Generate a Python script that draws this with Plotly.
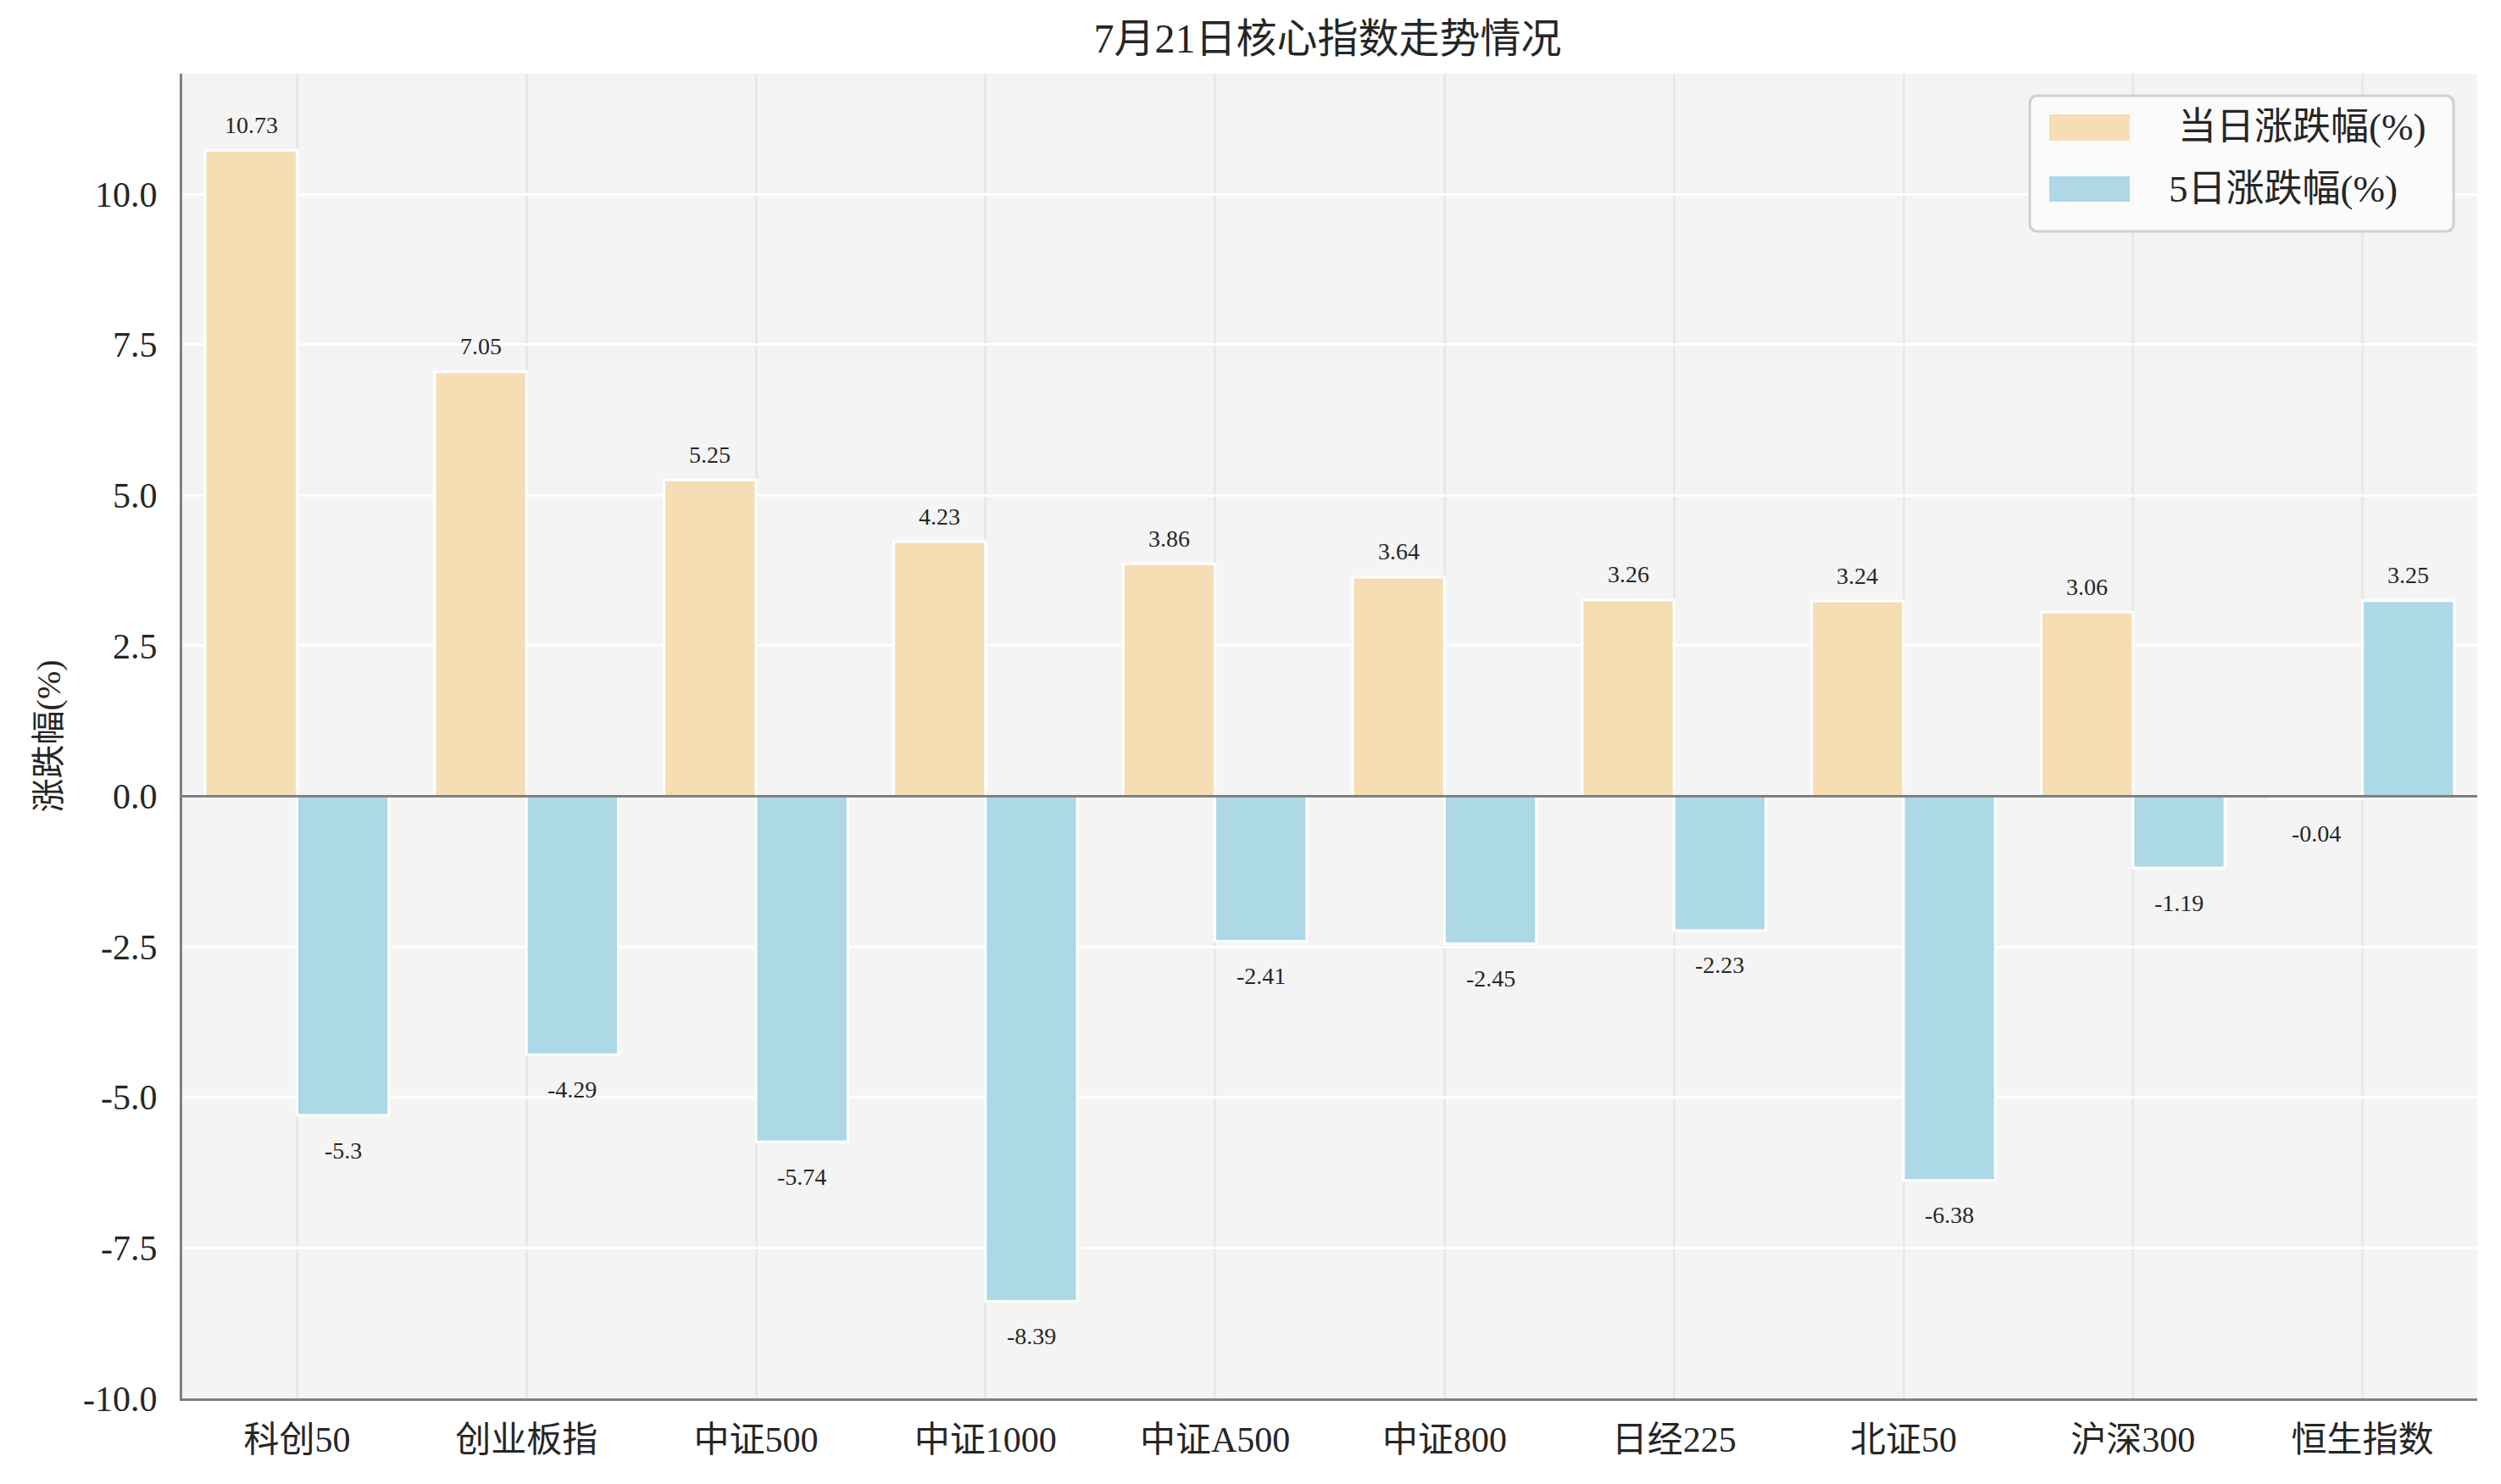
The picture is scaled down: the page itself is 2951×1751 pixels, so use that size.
import plotly.graph_objects as go
import numpy as np

categories = ["科创50", "创业板指", "中证500", "中证1000", "中证A500", "中证800", "日经225", "北证50", "沪深300", "恒生指数"]
daily_change = [10.73, 7.05, 5.25, 4.23, 3.86, 3.64, 3.26, 3.24, 3.06, -0.04]
five_day_change = [-5.3, -4.29, -5.74, -8.39, -2.41, -2.45, -2.23, -6.38, -1.19, 3.25]
series_names = ["当日涨跌幅(%)", "5日涨跌幅(%)"]
series_colors = ["#F5DEB3", "#ADD8E6"]
y_ticks = [-10.0, -7.5, -5.0, -2.5, 0.0, 2.5, 5.0, 7.5, 10.0]

FONT = "Liberation Serif, Noto Sans CJK SC, serif"
TXT = "#262626"
x = np.arange(len(categories))

fig = go.Figure()
for vals, name, col in zip((daily_change, five_day_change), series_names, series_colors):
    fig.add_trace(go.Bar(x=x, y=vals, name=name, showlegend=False,
                         marker=dict(color=col, line=dict(color="white", width=3))))

annotations = []
for series, off in ((daily_change, -0.2), (five_day_change, 0.2)):
    for i, v in enumerate(series):
        annotations.append(dict(x=i + off, y=v, xref="x", yref="y", text=f"{v:g}",
                                showarrow=False, yanchor="middle",
                                yshift=30 if v >= 0 else -41,
                                font=dict(family=FONT, size=28, color=TXT)))

annotations.append(dict(x=-0.058, y=0.5, xref="paper", yref="paper", text="涨跌幅(%)",
                        textangle=-90, showarrow=False, xanchor="center", yanchor="middle",
                        font=dict(family=FONT, size=40, color=TXT)))

# zero reference line drawn above the bars
shapes = [dict(type="line", xref="paper", yref="y", x0=0, x1=1, y0=0, y1=0,
               line=dict(color="#808080", width=3), layer="above")]

# legend (large swatches, rounded frame)
lx0, lx1, ly0, ly1 = 0.8050, 0.9897, 0.8810, 0.9834
rx, ry = 0.0037, 0.0064
path = (f"M {lx0+rx},{ly0} L {lx1-rx},{ly0} Q {lx1},{ly0} {lx1},{ly0+ry} "
        f"L {lx1},{ly1-ry} Q {lx1},{ly1} {lx1-rx},{ly1} "
        f"L {lx0+rx},{ly1} Q {lx0},{ly1} {lx0},{ly1-ry} "
        f"L {lx0},{ly0+ry} Q {lx0},{ly0} {lx0+rx},{ly0} Z")
shapes.append(dict(type="path", xref="paper", yref="paper", path=path,
                   fillcolor="rgba(252,252,252,0.85)", line=dict(color="#d0d0d0", width=3),
                   layer="above"))
swatch_y = [(0.9495, 0.9693), (0.9034, 0.9226)]
text_y = [0.9597, 0.9130]
text_x = [0.8690, 0.8650]
for (y0, y1), col, ty, tx, name in zip(swatch_y, series_colors, text_y, text_x, series_names):
    shapes.append(dict(type="rect", xref="paper", yref="paper", x0=0.8135, x1=0.8486,
                       y0=y0, y1=y1, fillcolor=col, line=dict(width=0), layer="above"))
    annotations.append(dict(x=tx, y=ty, xref="paper", yref="paper", text=name,
                            showarrow=False, xanchor="left", yanchor="middle",
                            font=dict(family=FONT, size=45, color=TXT)))

fig.update_layout(
    width=2951, height=1751,
    margin=dict(l=215, r=28, t=87, b=101, autoexpand=False),
    paper_bgcolor="white", plot_bgcolor="#f4f4f4",
    barmode="group", bargap=0.2, bargroupgap=0,
    title=dict(text="7月21日核心指数走势情况", x=0.5308, xanchor="center", y=0.974, yanchor="middle",
               font=dict(family=FONT, size=48, color=TXT)),
    font=dict(family=FONT, color=TXT),
    annotations=annotations,
    shapes=shapes,
    showlegend=False,
)
fig.update_xaxes(range=[-0.5, 9.5], tickvals=list(x), ticktext=categories,
                 showgrid=True, gridcolor="#e8e8e8", gridwidth=3,
                 showline=True, linecolor="#808080", linewidth=3,
                 ticks="", tickfont=dict(family=FONT, size=42, color=TXT),
                 ticklabelstandoff=10, zeroline=False)
fig.update_yaxes(range=[-10, 12], tickvals=y_ticks, ticktext=[f"{t:.1f}" for t in y_ticks],
                 showgrid=True, gridcolor="white", gridwidth=3,
                 showline=True, linecolor="#808080", linewidth=3,
                 zeroline=False,
                 ticks="", tickfont=dict(family=FONT, size=42, color=TXT),
                 ticklabelstandoff=18)

fig.write_html("out.html")
